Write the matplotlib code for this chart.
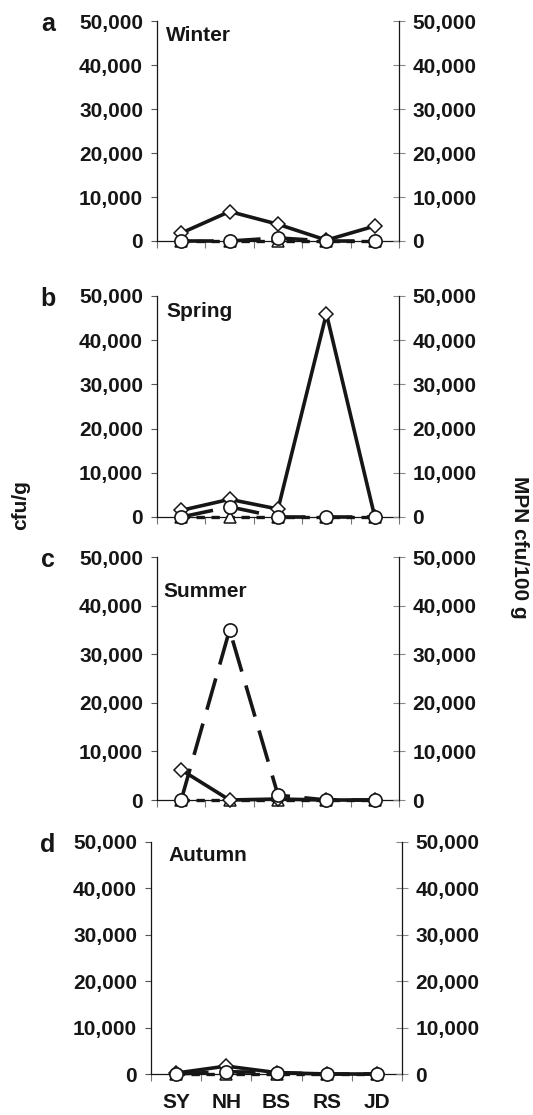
"""Seasonal counts at five sites, four stacked panels with twin y axes"""
import numpy as np
from matplotlib import pyplot as plt

sites = ["SY", "NH", "BS", "RS", "JD"]
seasons = ["Winter", "Spring", "Summer", "Autumn"]
letters = ["a", "b", "c", "d"]
yticks = [0, 10000, 20000, 30000, 40000, 50000]

# diamonds, solid line
diamond = [
    [1800, 6700, 3800, 200, 3400],
    [1500, 4000, 1800, 46000, 0],
    [6200, 0, 200, 0, 0],
    [200, 1700, 300, 0, 0],
]
# circles, long dashes
circle = [
    [0, 0, 700, 0, 0],
    [0, 2300, 0, 0, 0],
    [0, 35000, 1000, 0, 0],
    [0, 500, 300, 0, 0],
]
# triangles, short dashes
triangle = [
    [0, 0, 0, 0, 0],
    [0, 0, 0, 0, 0],
    [0, 0, 0, 0, 0],
    [0, 0, 0, 0, 0],
]

if __name__ == "__main__":
    plt.rcParams["font.family"] = ["Liberation Sans", "DejaVu Sans"]
    plt.rcParams["font.weight"] = "bold"

    W, H = 533, 1115
    fig = plt.figure(figsize=(W / 100, H / 100), dpi=100)

    # panel boxes in pixels: left, right, top, bottom
    boxes = [
        (157, 399, 21, 241),
        (157, 399, 296, 517),
        (157, 399, 557, 800),
        (151, 402, 842, 1074),
    ]
    label_pos = [(0.037, 0.936), (0.037, 0.928), (0.025, 0.856), (0.07, 0.94)]
    ink = "#161616"
    fs = 15
    x = np.arange(len(sites))

    for i, (l, r, t, b) in enumerate(boxes):
        ax = fig.add_axes([l / W, 1 - b / H, (r - l) / W, (b - t) / H])
        ax2 = ax.twinx()

        ax.plot(x, triangle[i], color=ink, lw=2.4, dashes=(2.5, 2),
                marker="^", ms=9, mfc="white", mec=ink, mew=1.1,
                clip_on=False, zorder=3)
        ax.plot(x, diamond[i], color=ink, lw=2.6, ls="-",
                marker="D", ms=7, mfc="white", mec=ink, mew=1.1,
                clip_on=False, zorder=4)
        ax.plot(x, circle[i], color=ink, lw=2.6, dashes=(9, 4),
                marker="o", ms=9.5, mfc="white", mec=ink, mew=1.2,
                clip_on=False, zorder=5)

        for a in (ax, ax2):
            a.set_xlim(-0.5, len(sites) - 0.5)
            a.set_ylim(0, 50000)
            a.set_yticks(yticks)
            a.set_yticklabels([f"{v:,}" for v in yticks])
            a.spines["top"].set_visible(False)
            for s in a.spines.values():
                s.set_linewidth(0.9)
                s.set_color(ink)
        ax2.spines["bottom"].set_visible(False)
        ax2.spines["left"].set_visible(False)
        ax.spines["right"].set_visible(False)

        ax.tick_params(axis="y", direction="out", length=4.5, width=0.8,
                       color="#555555", labelsize=fs, pad=5.5, labelcolor=ink)
        ax2.tick_params(axis="y", direction="inout", length=8, width=0.8,
                        color="#888888", labelsize=fs, pad=5.5, labelcolor=ink)

        ax.set_xticks(x)
        ax.set_xticks(np.arange(-0.5, len(sites)), minor=True)
        ax.tick_params(axis="x", which="major", length=0, pad=14,
                       labelsize=fs, labelcolor=ink)
        ax.tick_params(axis="x", which="minor", direction="out", length=5,
                       width=0.8, color="#777777")
        if i == len(boxes) - 1:
            ax.set_xticklabels(sites)
        else:
            ax.set_xticklabels([])

        ax.text(label_pos[i][0], label_pos[i][1], seasons[i],
                transform=ax.transAxes, ha="left", va="center",
                fontsize=fs, fontweight="bold", color=ink)
        fig.text(48 / W, 1 - (t + 3) / H, letters[i], ha="center",
                 va="center", fontsize=18, fontweight="bold", color=ink)

    fig.text(21 / W, 1 - 505 / H, "cfu/g", rotation=90, ha="center",
             va="center", fontsize=fs, fontweight="bold", color=ink)
    fig.text(519 / W, 1 - 547 / H, "MPN cfu/100 g", rotation=270,
             ha="center", va="center", fontsize=fs, fontweight="bold",
             color=ink)

    fig.savefig("out.png", dpi=100)
